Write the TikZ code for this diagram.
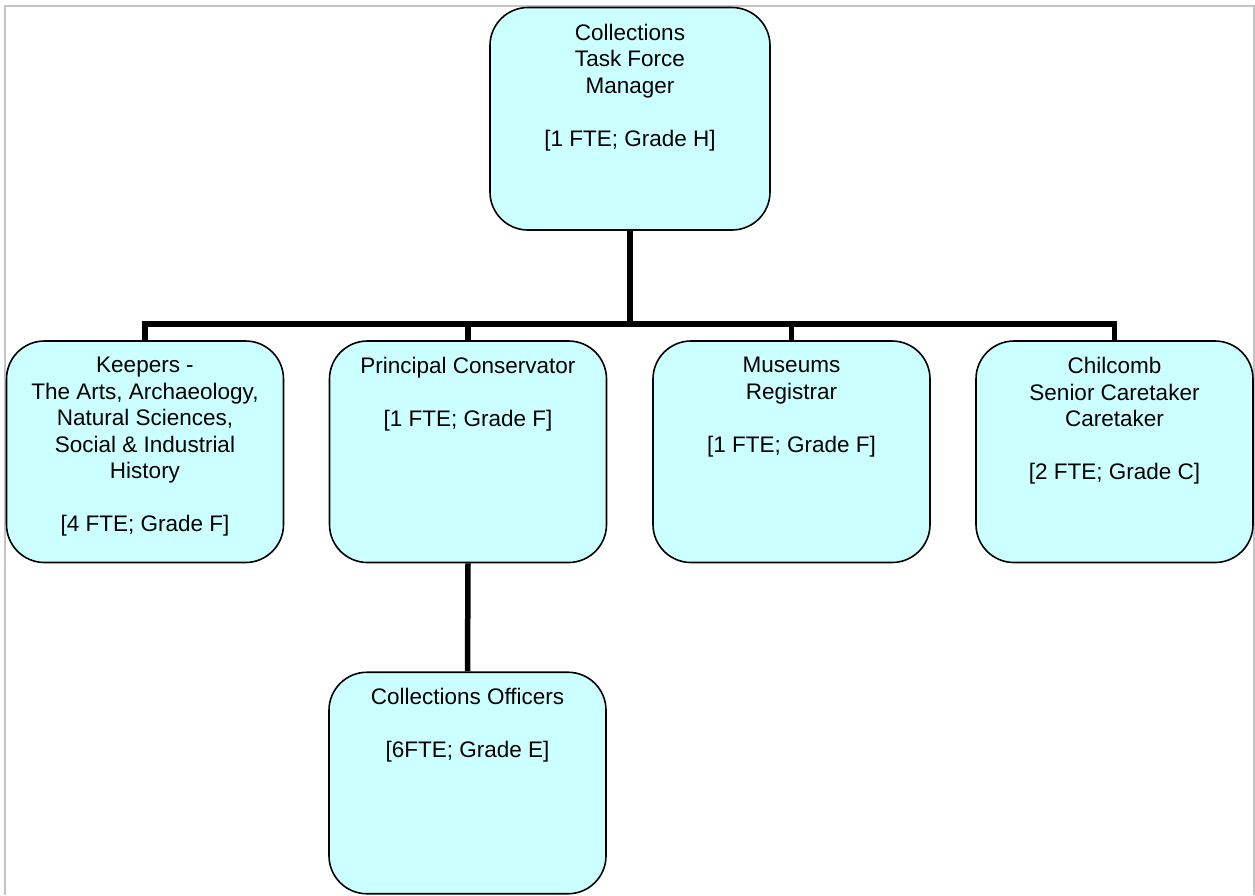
\documentclass[tikz,border=0pt]{standalone}
\usepackage{fontspec}
\setmainfont{Liberation Sans}
\definecolor{boxfill}{HTML}{CCFFFF}
\definecolor{framegray}{HTML}{C4C4C4}
\begin{document}
\begin{tikzpicture}[x=1pt,y=1pt,
  orgbox/.style={draw=black, line width=1.6pt, fill=boxfill, rounded corners=38pt,
    minimum width=277pt, minimum height=221.5pt, inner sep=0pt},
  boxtext/.style={align=center, font=\fontsize{22.5}{26.5}\selectfont, inner sep=0pt, anchor=north, text=black},
  conn/.style={draw=black, line width=5.5pt}]
\useasboundingbox (0,0) rectangle (1255,-895);
% frame
\draw[framegray, line width=1.6pt] (5,-895) -- (5,-6) -- (1254,-6) -- (1254,-895);
% boxes
\node[orgbox, minimum width=280pt, minimum height=222.5pt] (top) at (630,-118.75) {};
\node[orgbox] (keep) at (145,-451.75) {};
\node[orgbox] (prin) at (468,-451.75) {};
\node[orgbox] (mus) at (791.5,-451.75) {};
\node[orgbox] (chil) at (1114.5,-451.75) {};
\node[orgbox] (off) at (467.5,-783) {};
% texts
\node[boxtext] (toptxt) at ([yshift=-17pt]top.north) {Collections\\Task Force\\Manager\\[26.5pt]{[}1 FTE; Grade H]};
\node[boxtext] (keeptxt) at ([yshift=-17pt]keep.north) {Keepers -\\The Arts, Archaeology,\\Natural Sciences,\\Social \& Industrial\\History\\[26.5pt]{[}4 FTE; Grade F]};
\node[boxtext] (printxt) at ([yshift=-17pt]prin.north) {Principal Conservator\\[26.5pt]{[}1 FTE; Grade F]};
\node[boxtext] (mustxt) at ([yshift=-17pt]mus.north) {Museums\\Registrar\\[26.5pt]{[}1 FTE; Grade F]};
\node[boxtext] (chiltxt) at ([yshift=-17pt]chil.north) {Chilcomb\\Senior Caretaker\\Caretaker\\[26.5pt]{[}2 FTE; Grade C]};
\node[boxtext] (offtxt) at ([yshift=-17pt]off.north) {Collections Officers\\[26.5pt]{[}6FTE; Grade E]};
% connectors
\coordinate (bus) at (630,-324);
\draw[conn] (top.south) -- (bus);
\draw[conn] (keep.north) |- (bus) -| (chil.north);
\draw[conn] (prin.north) -- (prin.north |- bus);
\draw[conn] (mus.north) -- (mus.north |- bus);
\draw[conn] (prin.south) -- (off.north);
\end{tikzpicture}
\end{document}
